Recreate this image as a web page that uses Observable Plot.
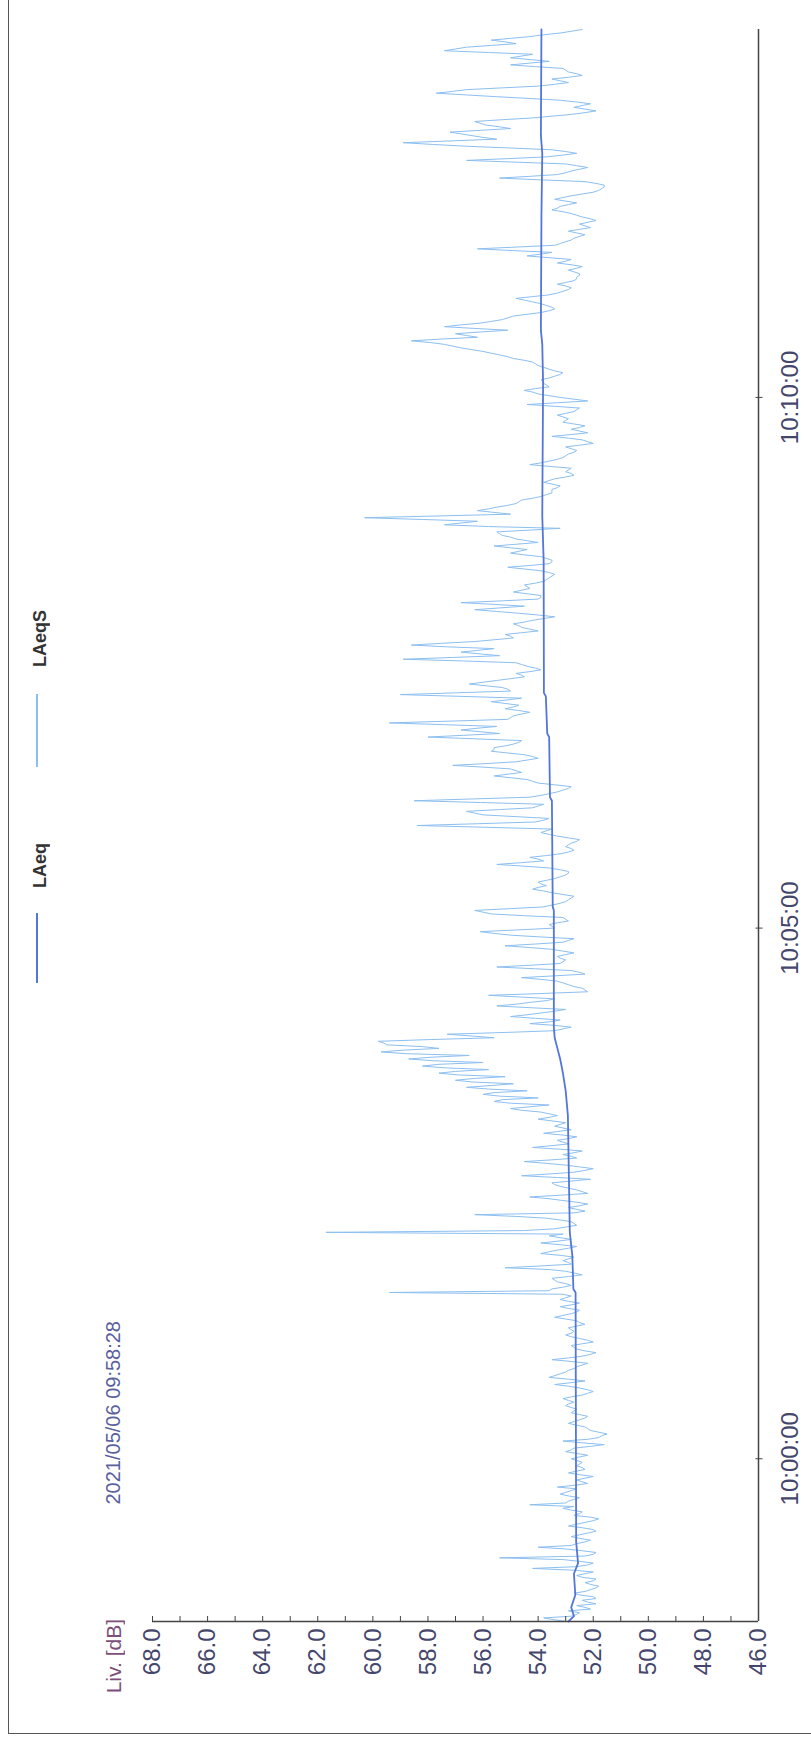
<!DOCTYPE html>
<html><head><meta charset="utf-8">
<script src="https://cdn.jsdelivr.net/npm/d3@7"></script>
<script src="https://cdn.jsdelivr.net/npm/@observablehq/plot@0.6"></script>
<style>
html,body{margin:0;padding:0;background:#fff;}
#wrap{position:relative;width:811px;height:1742px;overflow:hidden;font-family:"Liberation Sans",Arial,sans-serif;}
#wrap svg{position:absolute;left:0;top:0;}
.vt{position:absolute;writing-mode:vertical-rl;transform:rotate(180deg);white-space:nowrap;line-height:1;}
.sw{position:absolute;}
#frame{position:absolute;left:8px;top:-2px;width:803px;height:1736px;border-left:1.5px solid #555;border-bottom:1.5px solid #555;box-sizing:border-box;}
</style></head><body><div id="wrap"><div id="frame"></div></div>
<script>
// ---- data ----
const startTime = "2021-05-06T09:58:28Z";
const headerDate = "2021/05/06 09:58:28";
const unitLabel = "Liv. [dB]";
const seriesNames = ["LAeq", "LAeqS"];
// LAeqS read at even seconds (0,2,...,900) from the start
const laeqSEven = [
53.0,53.8,52.6,52.9,52.3,51.9,52.4,52.0,52.7,52.1,
51.8,52.3,51.9,52.6,52.0,54.2,52.2,52.5,55.4,52.0,
52.4,54.0,52.6,52.1,52.8,52.2,52.0,52.9,52.3,51.8,
52.7,52.4,53.1,54.3,52.9,52.5,53.2,52.8,53.3,52.2,
52.6,52.0,52.9,52.3,52.6,52.4,52.8,52.2,53.0,52.7,
51.6,53.1,51.8,51.5,52.1,52.3,52.9,52.5,52.2,52.8,
52.6,53.0,52.7,53.1,52.4,52.0,52.5,53.4,52.3,53.6,
53.2,52.9,52.6,52.2,53.5,52.4,51.9,52.6,52.8,52.0,
52.5,53.0,52.7,52.9,52.3,52.6,53.4,52.8,52.5,53.2,
52.5,53.2,52.8,59.4,53.5,52.8,53.3,53.5,52.4,53.0,
55.2,52.8,53.1,52.7,53.9,53.3,52.6,53.9,52.8,53.6,
61.7,53.4,52.6,52.8,53.7,56.3,52.3,52.9,52.2,53.1,
54.3,52.2,52.6,53.2,53.5,52.1,54.6,52.7,52.0,53.0,
54.5,52.6,53.1,52.4,54.2,52.9,53.3,52.6,53.8,52.8,
53.4,53.0,54.0,53.3,53.9,55.0,53.6,55.6,54.0,56.0,
54.4,56.6,54.9,57.0,55.2,57.6,55.8,58.2,56.0,58.7,
56.5,59.7,57.6,59.5,59.8,55.6,57.3,53.4,52.8,54.3,
53.2,55.0,53.9,53.0,55.5,54.3,53.4,55.8,52.2,52.4,
52.9,53.3,54.6,52.3,52.8,55.5,53.2,53.0,53.3,52.7,
53.5,55.2,53.1,52.7,55.0,56.1,53.4,53.6,52.9,53.1,
55.7,56.3,53.8,53.2,52.9,52.7,53.5,54.2,53.7,54.0,
53.4,53.0,52.9,53.6,55.5,53.8,54.3,53.2,52.7,53.0,
52.8,52.5,53.3,53.9,53.5,58.4,54.1,53.6,56.0,56.6,
54.2,53.8,58.5,54.3,53.6,53.1,52.8,54.0,54.4,55.6,
54.6,55.0,57.1,54.8,54.0,54.5,55.7,55.6,54.9,54.6,
58.0,55.4,56.8,55.5,59.4,55.1,54.9,54.3,55.2,54.7,
55.7,54.6,59.0,55.0,55.3,56.5,55.5,54.5,54.8,53.9,
54.4,54.8,58.9,55.4,56.8,55.6,58.6,56.3,54.9,55.2,
54.0,54.6,54.9,54.2,53.4,54.7,56.3,54.5,56.8,54.0,
53.9,54.9,54.3,54.5,53.8,53.6,53.4,53.9,55.1,53.6,
53.5,53.9,55.0,54.4,55.6,54.0,54.8,55.3,55.5,53.2,
57.4,56.2,60.3,55.0,56.2,55.5,54.8,54.6,53.9,53.5,
53.5,53.2,53.8,53.4,52.7,53.0,52.8,54.3,53.6,53.1,
52.9,52.6,53.0,52.0,52.4,53.5,52.2,52.8,52.3,53.1,
52.9,53.3,52.7,52.5,54.4,52.2,53.2,54.0,54.5,53.6,
53.8,53.9,53.4,53.1,53.6,54.0,54.2,54.9,55.4,56.0,
56.8,57.4,58.6,56.2,57.0,55.1,57.4,56.1,55.3,54.9,
53.9,53.4,53.7,54.2,54.8,53.6,53.1,52.8,53.3,52.7,
52.6,52.5,52.9,52.4,53.3,52.8,54.4,53.5,56.2,53.4,
53.0,52.7,52.3,52.9,52.1,52.5,51.9,52.4,52.8,53.5,
53.2,52.6,53.4,52.8,52.0,51.7,51.6,52.3,55.4,53.3,
52.8,52.2,53.0,56.6,53.7,52.6,53.5,56.6,58.9,55.5,
56.4,57.2,55.0,55.9,56.3,54.2,52.8,51.9,52.7,52.1,
53.2,55.5,57.7,56.6,54.0,52.9,53.5,52.4,52.9,53.1,
55.0,53.6,55.0,54.2,57.4,56.6,54.8,55.7,54.3,53.2,52.4
];
// LAeqS read at odd seconds (1,3,...,899) from the start
const laeqSOdd = [
53.4,52.8,52.5,52.1,52.6,52.2,51.9,52.5,52.3,51.9,
52.1,52.0,52.4,52.3,52.7,52.6,52.0,53.1,52.3,51.9,
53.0,52.8,52.3,52.5,52.5,51.9,52.4,52.6,52.0,52.1,
52.5,52.8,52.7,53.0,52.7,52.9,53.0,52.6,52.7,52.4,
52.3,52.5,52.6,52.4,52.5,52.6,52.5,52.6,52.8,52.1,
52.4,52.2,51.7,51.8,52.2,52.6,52.7,52.3,52.5,52.7,
52.8,52.9,52.9,52.8,52.2,52.2,52.9,52.8,52.9,53.4,
53.0,52.7,52.4,52.8,52.9,52.1,52.3,52.7,52.4,52.2,
52.8,52.8,52.8,52.6,52.5,53.0,53.1,52.6,52.9,52.8,
52.9,53.0,53.1,53.6,53.1,53.0,53.4,52.9,52.7,53.6,
53.9,52.9,52.9,53.2,53.6,52.9,53.2,53.3,53.2,53.1,
54.5,53.0,52.7,53.2,54.8,52.7,52.6,52.5,52.6,53.6,
53.2,52.4,52.9,53.4,52.8,53.3,53.6,52.3,52.5,53.7,
53.5,52.8,52.7,53.2,53.5,53.1,52.9,53.1,53.3,53.1,
53.2,53.5,53.6,53.6,54.6,54.3,55.0,55.3,55.4,55.6,
55.8,55.7,56.4,56.3,56.9,57.0,57.4,57.6,57.8,57.9,
58.8,58.9,58.2,59.6,57.9,56.4,55.2,53.1,53.4,53.6,
54.1,54.4,53.4,54.3,54.8,53.7,54.6,53.9,52.3,52.7,
53.1,53.9,53.4,52.5,54.1,54.3,53.1,53.2,53.0,53.1,
54.3,54.1,52.9,53.9,55.6,54.7,53.5,53.3,53.0,54.5,
56.0,55.0,53.5,53.0,52.8,53.1,53.8,54.0,53.9,53.7,
53.2,52.9,53.2,54.5,54.6,54.0,53.7,52.9,52.8,52.9,
52.6,52.9,53.6,53.7,55.9,56.2,53.8,54.8,56.3,55.4,
54.0,56.1,56.4,53.9,53.3,52.9,53.4,54.2,55.0,55.1,
54.8,56.0,55.9,54.4,54.2,55.1,55.6,55.2,54.7,56.3,
56.7,56.1,56.2,57.4,57.2,55.0,54.6,54.7,54.9,55.2,
55.1,56.8,57.0,55.1,55.9,56.0,55.0,54.6,54.3,54.1,
54.6,56.7,57.1,56.1,56.2,57.3,57.5,55.6,55.0,54.6,
54.3,54.7,54.5,53.8,54.0,55.5,55.4,55.6,55.3,53.9,
54.4,54.6,54.4,54.1,53.7,53.5,53.6,54.5,54.3,53.5,
53.7,54.5,54.7,55.0,54.8,54.4,55.0,55.4,54.3,55.8,
56.8,58.2,57.6,55.6,55.8,55.1,54.7,54.2,53.7,53.5,
53.3,53.5,53.6,53.0,52.8,52.9,53.6,53.9,53.3,53.0,
52.7,52.8,52.5,52.2,52.9,52.8,52.5,52.5,52.7,53.0,
53.1,53.0,52.6,53.4,53.3,52.7,53.6,54.2,54.1,53.7,
53.8,53.6,53.2,53.4,53.8,54.1,54.5,55.1,55.7,56.4,
57.1,57.9,57.5,56.6,56.1,56.3,56.8,55.7,55.1,54.4,
53.6,53.5,53.9,54.5,54.2,53.3,52.9,53.0,53.0,52.6,
52.5,52.7,52.6,52.8,53.0,53.6,53.9,54.9,54.8,53.2,
52.8,52.5,52.6,52.5,52.3,52.2,52.1,52.6,53.1,53.3,
52.9,53.0,53.1,52.4,51.8,51.6,51.9,53.9,54.3,53.0,
52.5,52.6,54.8,55.1,53.1,53.0,55.0,57.8,57.2,56.0,
56.8,56.1,55.4,56.1,55.3,53.5,52.3,52.3,52.4,52.6,
54.3,56.6,57.1,55.3,53.4,53.2,52.9,52.6,53.0,54.1,
54.3,54.3,54.6,55.8,57.0,55.7,55.2,55.0,53.8,52.8
];
const laeqSeconds = [0,3,8,15,27,33,45,186,188,207,220,286,300,310,318,324,330,336,402,404,464,466,500,502,523,525,600,625,700,722,730,795,830,840,900];
const laeqValues  = [52.9,52.7,52.8,52.65,52.7,52.55,52.62,52.64,52.72,52.76,52.85,52.92,53.0,53.1,53.2,53.3,53.4,53.43,53.43,53.47,53.5,53.57,53.6,53.67,53.72,53.79,53.8,53.85,53.82,53.85,53.9,53.88,53.85,53.9,53.88];
const dbTickLabels = [68,66,64,62,60,58,56,54,52,50,48,46];
const dbAllTicks = [68,67,66,65,64,63,62,61,60,59,58,57,56,55,54,53,52,51,50,49,48,47,46];
const timeTickLabels = ["10:00:00","10:05:00","10:10:00"];
const durationSeconds = 900;

// ---- build ----
const t0 = new Date(startTime);
const tEnd = new Date(+t0 + durationSeconds * 1000);
const sData = [];
laeqSEven.forEach((v, i) => {
  sData.push({t: new Date(+t0 + 2 * i * 1000), v});
  if (i < laeqSOdd.length) sData.push({t: new Date(+t0 + (2 * i + 1) * 1000), v: laeqSOdd[i]});
});
const lData = laeqSeconds.map((s, i) => ({t: new Date(+t0 + s * 1000), v: laeqValues[i]}));
const tickDates = timeTickLabels.map(s => new Date("2021-05-06T" + s + "Z"));
const colS = "#8cbff0", colL = "#5475da", axisCol = "#444", labCol = "#45466c";

const chart = Plot.plot({
  width: 811, height: 1742,
  marginTop: 29, marginBottom: 121, marginLeft: 152, marginRight: 53,
  style: {fontFamily: '"Liberation Sans", Arial, sans-serif', background: "transparent"},
  x: {domain: [68, 46], axis: null, label: null},
  y: {type: "utc", domain: [t0, tEnd], axis: null, label: null},
  marks: [
    Plot.line(sData, {x: "v", y: "t", stroke: colS, strokeWidth: 1}),
    Plot.line(lData, {x: "v", y: "t", stroke: colL, strokeWidth: 1.8}),
    Plot.ruleY([t0], {stroke: axisCol, strokeWidth: 1.5}),
    Plot.ruleX([46], {stroke: axisCol, strokeWidth: 1.5}),
    Plot.axisX(dbAllTicks, {anchor: "bottom", label: null, tickSize: 5, dy: -5, tickFormat: () => "", color: axisCol}),
    Plot.axisX(dbTickLabels, {anchor: "bottom", label: null, tickSize: 0, tickPadding: 7, tickRotate: -90,
      textAnchor: "end", lineAnchor: "middle", tickFormat: d3.format(".1f"), fontSize: 24, color: labCol}),
    Plot.axisY(tickDates, {anchor: "right", label: null, tickSize: 7, dx: -3.5, tickFormat: () => "", color: axisCol}),
    Plot.axisY(tickDates, {anchor: "right", label: null, tickSize: 0, tickPadding: 22, tickRotate: -90,
      textAnchor: "middle", lineAnchor: "top", tickFormat: d3.utcFormat("%H:%M:%S"), fontSize: 24, color: labCol})
  ]
});
const wrap = document.getElementById("wrap");
wrap.appendChild(chart);

function vtext(txt, cx, yStart, size, color, weight) {
  const s = document.createElement("span");
  s.className = "vt";
  s.textContent = txt;
  s.style.fontSize = size + "px";
  s.style.color = color;
  s.style.fontWeight = weight || "normal";
  s.style.left = (cx - size / 2) + "px";
  s.style.bottom = (1742 - yStart) + "px";
  wrap.appendChild(s);
}
function swatch(cx, yTop, h, color) {
  const d = document.createElement("div");
  d.className = "sw";
  d.style.left = (cx - 0.75) + "px";
  d.style.top = yTop + "px";
  d.style.width = "1.5px";
  d.style.height = h + "px";
  d.style.background = color;
  wrap.appendChild(d);
}
// legend
swatch(37, 913, 70, colL);
vtext(seriesNames[0], 40, 888, 18, "#333", "bold");
swatch(37, 694, 73, colS);
vtext(seriesNames[1], 40, 667, 18, "#333", "bold");
// header texts
vtext(unitLabel, 113, 1693, 21, "#7d4f7a");
vtext(headerDate, 113, 1505, 20, "#5a5f9e");
</script></body></html>
